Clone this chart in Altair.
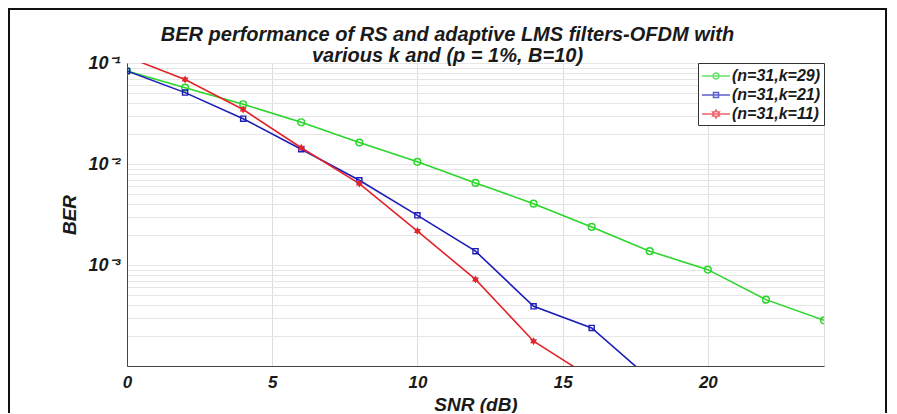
import altair as alt
import pandas as pd

# ---- data ----
snr = [0, 2, 4, 6, 8, 10, 12, 14, 16, 18, 20, 22, 24]
ber_k29 = [0.0833, 0.057, 0.039, 0.0259, 0.0163, 0.0105, 0.0065, 0.00405,
           0.00238, 0.00137, 0.00090, 0.000454, 0.000283]
ber_k21 = [0.0833, 0.0509, 0.0281, 0.0140, 0.0069, 0.0031, 0.00137, 0.00039,
           0.000238, 0.000075]
ber_k11 = [0.115, 0.0686, 0.0346, 0.0145, 0.0064, 0.00217, 0.00072, 0.000176,
           0.000076]
series_names = ["(n=31,k=29)", "(n=31,k=21)", "(n=31,k=11)"]
series_colors = ["#2ad62a", "#1c1cb8", "#e3242b"]
x_tick_values = [0, 5, 10, 15, 20]
y_major_values = [0.001, 0.01, 0.1]
y_major_labels = ["10\u207b\u00b3", "10\u207b\u00b2", "10\u207b\u00b9"]
title_lines = ["BER performance of RS and adaptive LMS filters-OFDM with",
               "various k and (p = 1%, B=10)"]

FONT = "Liberation Sans"
TXT = "#1a1a1a"

rows = []
for name, vals in zip(series_names, [ber_k29, ber_k21, ber_k11]):
    for x, v in zip(snr, vals):
        rows.append({"snr": x, "ber": v, "series": name})
df = pd.DataFrame(rows)

y_grid = [m * 10.0 ** e for e in (-4, -3, -2) for m in range(1, 10)] + [0.1]
label_expr = " : ".join(
    f"abs(datum.value - {v}) < {v * 1e-6} ? '{lab}'"
    for v, lab in zip(y_major_values, y_major_labels)
) + " : ''"

# marker shapes
hexa = [(0, -1), (0.2887, -0.5), (0.866, -0.5), (0.5774, 0), (0.866, 0.5),
        (0.2887, 0.5), (0, 1), (-0.2887, 0.5), (-0.866, 0.5), (-0.5774, 0),
        (-0.866, -0.5), (-0.2887, -0.5)]


def star_path(s, dx=0.0):
    pts = [f"{dx + px * s:.4f},{py * s:.4f}" for px, py in hexa]
    return "M" + "L".join(pts) + "Z"


# legend symbols: a line with the marker in its middle (units of 9 px)
L0, L1 = -1.0, 2.11
mc = (L0 + L1) / 2
r = 0.33
q = 0.28
line_seg = f"M{L0},0L{L1},0"
legend_paths = [
    line_seg + f"M{mc + r:.3f},0A{r},{r} 0 1,1 {mc - r:.3f},0A{r},{r} 0 1,1 {mc + r:.3f},0",
    line_seg + f"M{mc - q:.3f},-{q}L{mc + q:.3f},-{q}L{mc + q:.3f},{q}L{mc - q:.3f},{q}Z",
    line_seg + star_path(0.44, mc),
]
marker_shapes = ["circle", "square", star_path(1.0)]
marker_sizes = [46, 26, 64]
marker_filled = [False, False, True]

x_enc = alt.X(
    "snr:Q",
    scale=alt.Scale(domain=[0, 24], nice=False, zero=False),
    axis=alt.Axis(
        values=x_tick_values, title="SNR (dB)", ticks=False, grid=True,
        gridColor="#dedede", gridWidth=1, domainColor="#444",
        labelFont=FONT, labelFontSize=17, labelFontStyle="italic",
        labelFontWeight="bold", labelColor=TXT, labelPadding=8,
        titleFont=FONT, titleFontSize=19, titleFontStyle="italic",
        titleFontWeight="bold", titleColor=TXT, titlePadding=5,
        labelFlush=False,
    ),
)
y_enc = alt.Y(
    "ber:Q",
    scale=alt.Scale(type="log", domain=[0.0001, 0.1], nice=False),
    axis=alt.Axis(
        values=y_grid, labelExpr=label_expr, title="BER", ticks=False,
        grid=True, gridColor="#e6e6e6", gridWidth=1, domainColor="#444",
        labelFont=FONT, labelFontSize=18, labelFontStyle="italic",
        labelFontWeight="bold", labelColor=TXT, labelPadding=7,
        labelOverlap=False, labelFlush=False,
        titleFont=FONT, titleFontSize=19, titleFontStyle="italic",
        titleFontWeight="bold", titleColor=TXT, titlePadding=8,
    ),
)

layers = []
for name, col, shp, sz, fl in zip(series_names, series_colors, marker_shapes,
                                  marker_sizes, marker_filled):
    base = alt.Chart(df).transform_filter(alt.datum.series == name)
    layers.append(base.mark_line(color=col, strokeWidth=1.6, clip=True)
                  .encode(x=x_enc, y=y_enc))
    layers.append(base.mark_point(color=col, shape=shp, size=sz, filled=fl,
                                  strokeWidth=1.4, opacity=1, clip=True)
                  .encode(x=x_enc, y=y_enc))

leg = alt.Legend(
    title=None, orient="none", legendX=571, legendY=0, symbolSize=324,
    symbolStrokeWidth=1.5, labelFont=FONT, labelFontSize=16,
    labelFontStyle="italic", labelFontWeight="bold", labelColor=TXT,
    strokeColor="#333", fillColor="white", padding=3, rowPadding=1,
    labelOffset=11,
)
legend_layer = alt.Chart(df).transform_filter("false").mark_point(
    filled=False, strokeWidth=1.5
).encode(
    x=x_enc, y=y_enc,
    color=alt.Color("series:N", scale=alt.Scale(domain=series_names, range=series_colors), legend=leg),
    shape=alt.Shape("series:N", scale=alt.Scale(domain=series_names, range=legend_paths), legend=leg),
)

frame = alt.Chart(pd.DataFrame({"f": [0]})).mark_rect(
    fillOpacity=0, stroke="#111", strokeWidth=2, clip=False
).encode(x=alt.value(-118), x2=alt.value(759), y=alt.value(-54), y2=alt.value(420))

chart = alt.layer(frame, *layers, legend_layer).properties(
    width=697, height=303,
    padding={"left": 119, "top": 55, "right": 65, "bottom": 47},
    autosize=alt.AutoSizeParams(type="none"),
    title=alt.TitleParams(
        text=title_lines, font=FONT, fontSize=20, fontStyle="italic",
        fontWeight="bold", color=TXT, anchor="middle", frame="bounds",
        offset=2, lineHeight=21, dy=60,
    ),
).configure_view(stroke="#444", strokeWidth=1).configure(background="white")

chart.save("out.html", embed_options={"renderer": "svg", "actions": False})
